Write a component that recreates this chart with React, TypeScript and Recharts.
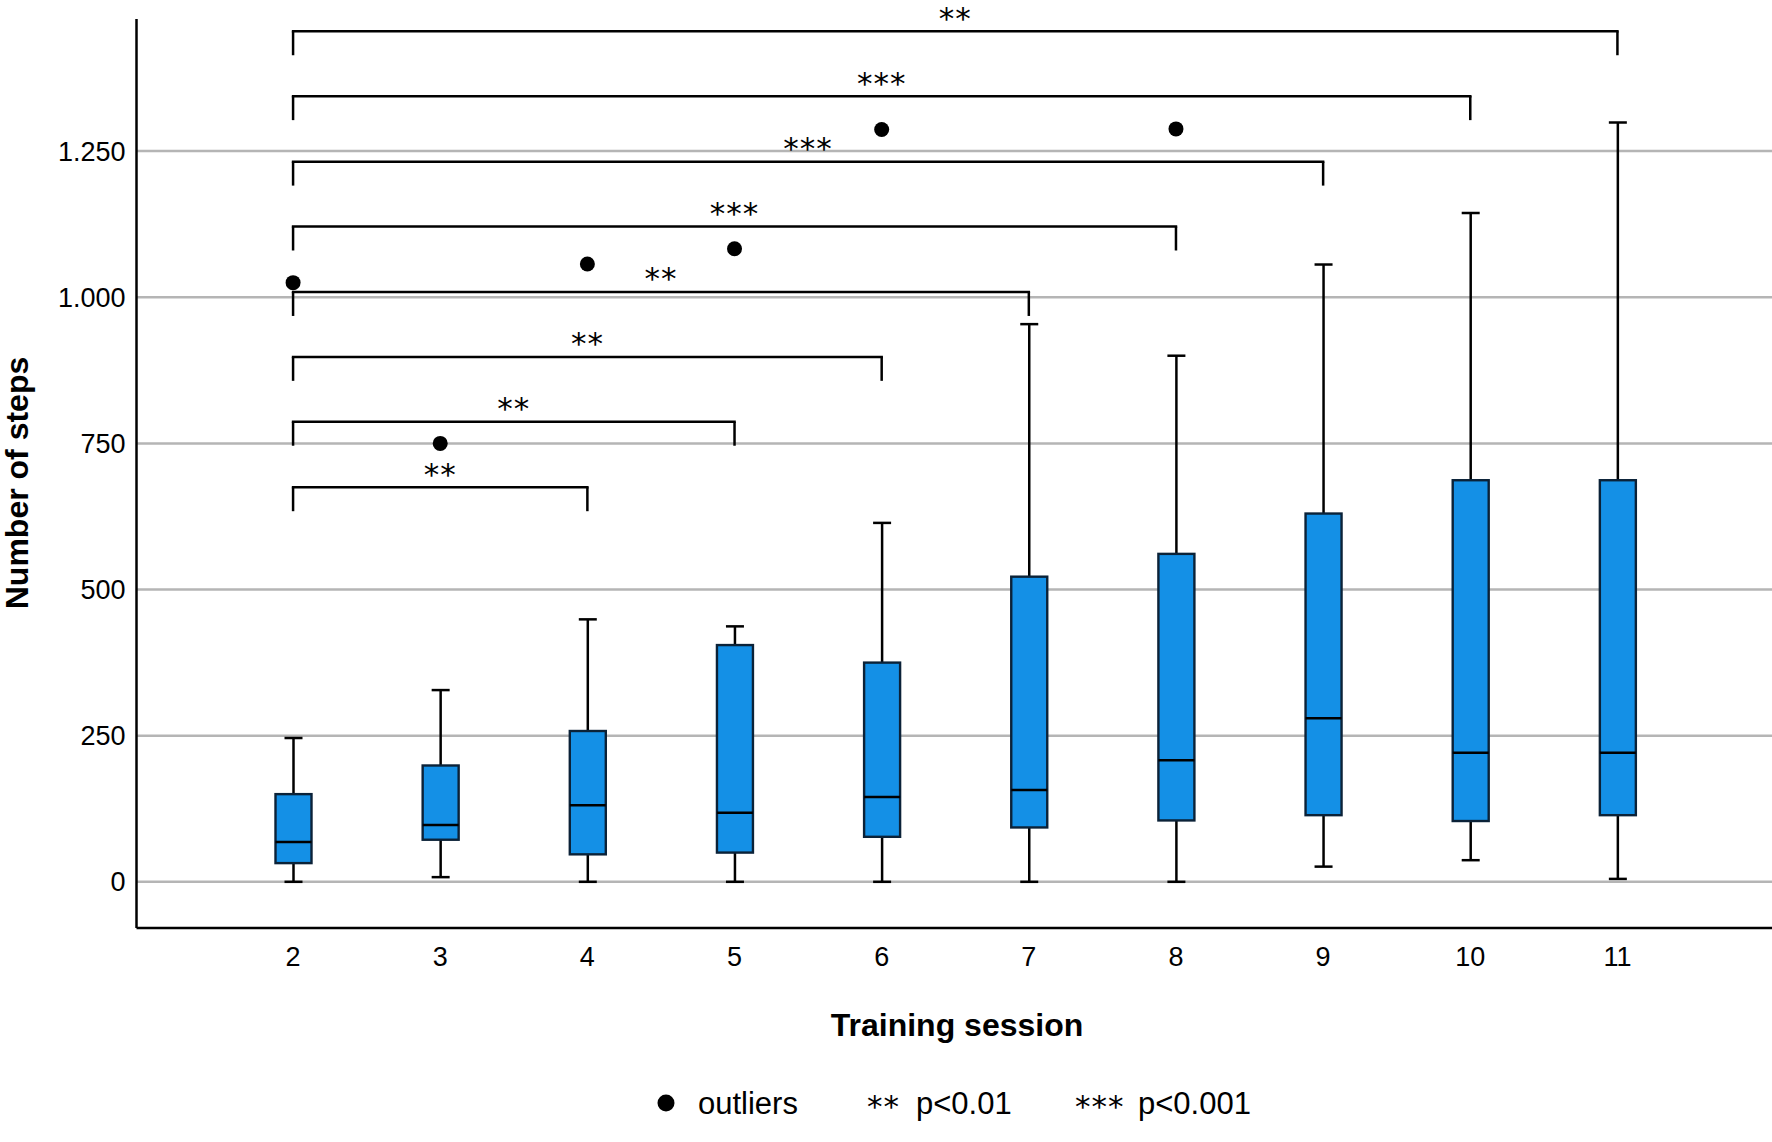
import React from 'react';
import {
  ComposedChart,
  Bar,
  Scatter,
  XAxis,
  YAxis,
  CartesianGrid,
  ReferenceLine,
} from 'recharts';

// ---------- data ----------
const sessions = ['2', '3', '4', '5', '6', '7', '8', '9', '10', '11'];
const whiskerLow = [0, 8, 0, 0, 0, 0, 0, 26, 37, 5];
const q1 = [32, 72, 47, 50, 77, 93, 105, 114, 104, 114];
const median = [68, 97, 131, 118, 145, 157, 208, 280, 221, 221];
const q3 = [150, 199, 258, 405, 375, 522, 561, 630, 687, 687];
const whiskerHigh = [246, 328, 449, 437, 614, 954, 900, 1056, 1144, 1299];
const outliers: (number | null)[] = [1025, 750, 1057, 1083, 1287, null, 1288, null, null, null];

const yTicks = [0, 250, 500, 750, 1000, 1250];

const bracketStart = '2';
const bracketEnds = ['4', '5', '6', '7', '8', '9', '10', '11'];
const bracketHeights = [675, 787, 898, 1009, 1121, 1232, 1344, 1455];
const bracketLabels = ['**', '**', '**', '**', '***', '***', '***', '**'];
const bracketLeg = 41;

const legendLabels = ['outliers', 'p<0.01', 'p<0.001'];
const legendStars = ['**', '***'];

const xTitle = 'Training session';
const yTitle = 'Number of steps';

const data = sessions.map((s, i) => ({
  session: s,
  box: [q1[i], q3[i]],
  wLow: whiskerLow[i],
  q1: q1[i],
  med: median[i],
  q3: q3[i],
  wHigh: whiskerHigh[i],
  outlier: outliers[i],
}));

// ---------- styles ----------
const FONT = '"Liberation Sans", Arial, Helvetica, sans-serif';
const STAR_FONT = '"DejaVu Sans", sans-serif';
const BOX_FILL = '#1490e6';
const BOX_STROKE = '#0b2238';
const LINE_W = 2.5;

const fmt = (v: number) =>
  v >= 1000 ? `${Math.floor(v / 1000)}.${String(v % 1000).padStart(3, '0')}` : String(v);

const BoxShape = (props: any) => {
  const { x, y, width, height, payload } = props;
  if (x == null || y == null || !payload) return <g />;
  const top = Math.min(y, y + height);
  const bot = Math.max(y, y + height);
  const k = (bot - top) / (payload.q3 - payload.q1);
  const yOf = (v: number) => top + (payload.q3 - v) * k;
  const cx = x + width / 2;
  const capHalf = 9;
  const yHigh = yOf(payload.wHigh);
  const yLow = yOf(payload.wLow);
  const yMed = yOf(payload.med);
  return (
    <g>
      <line x1={cx} x2={cx} y1={yHigh} y2={top} stroke="#000" strokeWidth={LINE_W} />
      <line x1={cx - capHalf} x2={cx + capHalf} y1={yHigh} y2={yHigh} stroke="#000" strokeWidth={LINE_W} />
      <line x1={cx} x2={cx} y1={bot} y2={yLow} stroke="#000" strokeWidth={LINE_W} />
      <line x1={cx - capHalf} x2={cx + capHalf} y1={yLow} y2={yLow} stroke="#000" strokeWidth={LINE_W} />
      <rect x={x} y={top} width={width} height={bot - top} fill={BOX_FILL} stroke={BOX_STROKE} strokeWidth={2.4} />
      <line x1={x} x2={x + width} y1={yMed} y2={yMed} stroke="#000" strokeWidth={LINE_W} />
    </g>
  );
};

const OutlierShape = (props: any) => {
  const { cx, cy, payload } = props;
  if (!payload || payload.outlier == null || cx == null || cy == null || isNaN(cy)) return <g />;
  return <circle cx={cx} cy={cy} r={7.5} fill="#000" />;
};

const makeStarLabel = (text: string) => (p: any) => {
  const vb = p.viewBox || {};
  let cx: number;
  let cy: number;
  if (vb.x1 != null) {
    cx = (vb.x1 + vb.x2) / 2;
    cy = Math.min(vb.y1, vb.y2);
  } else {
    cx = vb.x + (vb.width || 0) / 2;
    cy = vb.y;
  }
  return (
    <text
      x={cx}
      y={cy - 2.5}
      textAnchor="middle"
      fontFamily={STAR_FONT}
      fontSize={31}
      letterSpacing={1}
      fill="#000"
    >
      {text}
    </text>
  );
};

const gridGenerator = (p: any) => {
  const scale = p?.yAxis?.scale;
  if (scale && typeof scale === 'function') return yTicks.map((t) => scale(t));
  if (scale && typeof scale.map === 'function') return yTicks.map((t) => scale.map(t));
  return [];
};

export default function App() {
  return (
    <div style={{ position: 'absolute', left: 0, top: 0, width: 1772, height: 1142, background: '#fff' }}>
      <ComposedChart
        width={1772}
        height={1142}
        data={data}
        margin={{ top: 19, right: 0, bottom: 154, left: 56.5 }}
      >
        <CartesianGrid
          vertical={false}
          stroke="#b5b5b5"
          strokeWidth={2.5}
          horizontalCoordinatesGenerator={gridGenerator}
        />
        <XAxis
          dataKey="session"
          type="category"
          padding={{ left: 83, right: 81 }}
          tickLine={false}
          tickSize={0}
          tickMargin={19}
          interval={0}
          height={60}
          axisLine={{ stroke: '#000', strokeWidth: 2.5 }}
          tick={{ fontSize: 27, fill: '#000', fontFamily: FONT }}
        />
        <YAxis
          type="number"
          domain={[-79, 1476]}
          allowDataOverflow
          ticks={yTicks}
          tickFormatter={fmt}
          width={80}
          tickLine={false}
          tickSize={0}
          tickMargin={11}
          axisLine={{ stroke: '#000', strokeWidth: 2.5 }}
          tick={{ fontSize: 27, fill: '#000', fontFamily: FONT }}
        />
        <Bar dataKey="box" barSize={36} shape={BoxShape} isAnimationActive={false} />
        {bracketEnds.map((end, i) => (
          <ReferenceLine
            key={`h${i}`}
            segment={[
              { x: bracketStart, y: bracketHeights[i] },
              { x: end, y: bracketHeights[i] },
            ]}
            stroke="#000"
            strokeWidth={LINE_W}
            strokeLinecap="square"
            label={makeStarLabel(bracketLabels[i])}
          />
        ))}
        {bracketEnds.map((end, i) => (
          <ReferenceLine
            key={`l${i}`}
            segment={[
              { x: bracketStart, y: bracketHeights[i] },
              { x: bracketStart, y: bracketHeights[i] - bracketLeg },
            ]}
            stroke="#000"
            strokeWidth={LINE_W}
          />
        ))}
        {bracketEnds.map((end, i) => (
          <ReferenceLine
            key={`r${i}`}
            segment={[
              { x: end, y: bracketHeights[i] },
              { x: end, y: bracketHeights[i] - bracketLeg },
            ]}
            stroke="#000"
            strokeWidth={LINE_W}
          />
        ))}
        <Scatter dataKey="outlier" shape={OutlierShape} isAnimationActive={false} />
      </ComposedChart>
      <svg
        width={1772}
        height={1142}
        style={{ position: 'absolute', left: 0, top: 0, pointerEvents: 'none' }}
      >
        <text
          x={28}
          y={483}
          transform="rotate(-90, 28, 483)"
          textAnchor="middle"
          fontFamily={FONT}
          fontWeight="bold"
          fontSize={32}
          fill="#000"
        >
          {yTitle}
        </text>
        <text x={957} y={1036} textAnchor="middle" fontFamily={FONT} fontWeight="bold" fontSize={32} fill="#000">
          {xTitle}
        </text>
        <circle cx={666} cy={1103} r={8.5} fill="#000" />
        <text x={698} y={1114} fontFamily={FONT} fontSize={31} fill="#000">
          {legendLabels[0]}
        </text>
        <text x={867} y={1117} fontFamily={STAR_FONT} fontSize={31} letterSpacing={1} fill="#000">
          {legendStars[0]}
        </text>
        <text x={916} y={1114} fontFamily={FONT} fontSize={31} fill="#000">
          {legendLabels[1]}
        </text>
        <text x={1075} y={1117} fontFamily={STAR_FONT} fontSize={31} letterSpacing={1} fill="#000">
          {legendStars[1]}
        </text>
        <text x={1138} y={1114} fontFamily={FONT} fontSize={31} fill="#000">
          {legendLabels[2]}
        </text>
      </svg>
    </div>
  );
}
